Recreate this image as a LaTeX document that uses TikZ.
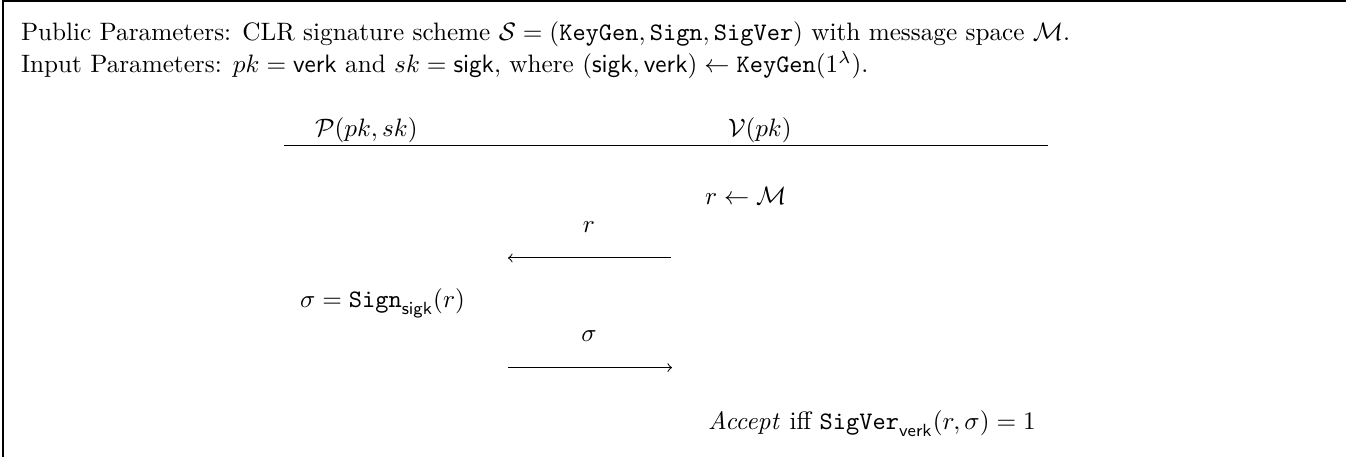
\documentclass[tikz,border=0pt]{standalone}
\usepackage{amsmath,amssymb}
\begin{document}
\begin{tikzpicture}[x=0.397pt,y=-0.397pt,
  txt/.style={inner sep=0pt, outer sep=0pt},
  msg/.style={->, line width=0.4pt},
  frame/.style={line width=0.8pt}]
\useasboundingbox (0,0) rectangle (1346,457);
\draw[frame] (3,457) -- (3,1) -- (1346,1);
\node[txt, anchor=base west] (pub) at (21,41) {Public Parameters: CLR signature scheme $\mathcal{S}=(\mathtt{KeyGen},\mathtt{Sign},\mathtt{SigVer})$ with message space $\mathcal{M}$.};
\node[txt, anchor=base west] (inp) at (21,73) {Input Parameters: $pk=\mathsf{verk}$ and $sk=\mathsf{sigk}$, where $(\mathsf{sigk},\mathsf{verk})\leftarrow\mathtt{KeyGen}(1^{\lambda})$.};
\node[txt, anchor=base west] (P) at (315,137) {$\mathcal{P}(pk,sk)$};
\node[txt, anchor=base west] (V) at (728,137) {$\mathcal{V}(pk)$};
\coordinate (rl) at (284,146);
\coordinate (rr) at (1048,146);
\draw[line width=0.4pt] (rl) -- (rr);
\node[txt, anchor=base west] (rM) at (705,205) {$r\leftarrow\mathcal{M}$};
\node[txt, anchor=base] (rlab) at (589,233) {$r$};
\coordinate (a1s) at (671,258);
\coordinate (a1e) at (508,258);
\draw[msg] (a1s) -- (a1e);
\node[txt, anchor=base west] (sig) at (300,308) {$\sigma=\mathtt{Sign}_{\mathsf{sigk}}(r)$};
\node[txt, anchor=base] (slab) at (589,342) {$\sigma$};
\coordinate (a2s) at (508,367.6);
\coordinate (a2e) at (672,367.6);
\draw[msg] (a2s) -- (a2e);
\node[txt, anchor=base west] (acc) at (708,430) {$\mathit{Accept}$ iff $\mathtt{SigVer}_{\mathsf{verk}}(r,\sigma)=1$};
\end{tikzpicture}
\end{document}
